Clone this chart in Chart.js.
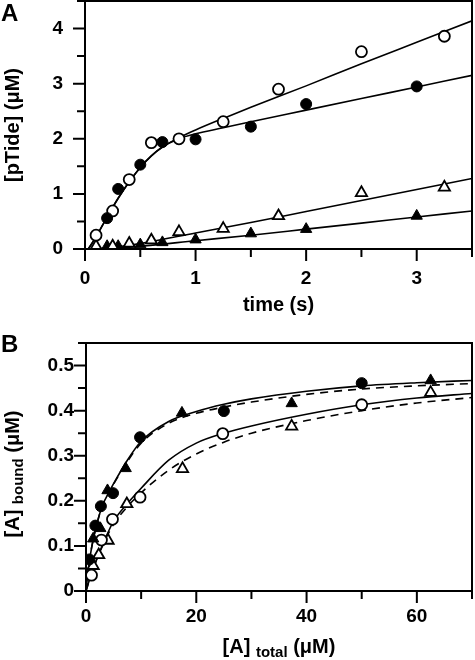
<!DOCTYPE html>
<html>
<head>
<meta charset="utf-8">
<script src="https://cdn.jsdelivr.net/npm/chart.js@4/dist/chart.umd.min.js"></script>
<style>
body { margin: 0; background: #fff; }
#wrap { position: relative; width: 475px; height: 660px; }
canvas { position: absolute; left: 0; }
.letter { position: absolute; font: bold 24px "Liberation Sans", Arial, sans-serif; line-height: 24px; }
</style>
</head>
<body>
<div id="wrap">
  <canvas id="chartA" width="475" height="330" style="top:0"></canvas>
  <canvas id="chartB" width="475" height="330" style="top:330px"></canvas>
  <div class="letter" style="left:1px;top:1px">A</div>
  <div class="letter" style="left:1px;top:332px">B</div>
</div>
<script>
const FONT = '"Liberation Sans", Arial, sans-serif';

// ---- panel A: [pTide] vs time ----
let timeFilledCircle = [0.2, 0.3, 0.5, 0.7, 1.0, 1.5, 2.0, 3.0];
let pTideFilledCircle = [0.56, 1.09, 1.53, 1.94, 1.99, 2.22, 2.63, 2.95];
let timeOpenCircle = [0.1, 0.25, 0.4, 0.6, 0.85, 1.25, 1.75, 2.5, 3.25];
let pTideOpenCircle = [0.25, 0.69, 1.26, 1.93, 2.0, 2.31, 2.9, 3.58, 3.86];
let timeOpenTri = [0.1, 0.25, 0.4, 0.6, 0.85, 1.25, 1.75, 2.5, 3.25];
let pTideOpenTri = [0.05, 0.05, 0.1, 0.16, 0.31, 0.37, 0.6, 1.02, 1.12];
let timeFilledTri = [0.2, 0.3, 0.5, 0.7, 1.0, 1.5, 2.0, 3.0];
let pTideFilledTri = [0.05, 0.05, 0.08, 0.12, 0.17, 0.28, 0.36, 0.6];

// fitted curves
let fitTimeCircle = [0.03, 0.1, 0.2, 0.3, 0.4, 0.5, 0.6, 0.7, 0.85, 1.0, 1.25, 1.5, 2.0, 2.5, 3.0, 3.5];
let fitOpenCircle = [0, 0.22, 0.58, 0.92, 1.22, 1.48, 1.69, 1.85, 2.02, 2.16, 2.37, 2.57, 2.96, 3.36, 3.75, 4.14];
let fitFilledCircle = [0, 0.22, 0.58, 0.92, 1.22, 1.48, 1.69, 1.85, 2.0, 2.09, 2.2, 2.31, 2.52, 2.73, 2.94, 3.15];
let fitTimeTri = [0.1, 0.3, 0.5, 1.0, 1.5, 2.0, 2.5, 3.0, 3.5];
let fitOpenTri = [0, 0.04, 0.1, 0.29, 0.48, 0.68, 0.88, 1.08, 1.28];
let fitFilledTri = [0, 0.02, 0.05, 0.15, 0.25, 0.36, 0.47, 0.58, 0.69];

// ---- panel B: [A]bound vs [A]total ----
let totalFilledCircle = [0.6, 1.7, 2.7, 4.9, 9.8, 25, 50];
let boundFilledCircle = [0.07, 0.145, 0.188, 0.217, 0.341, 0.399, 0.461];
let totalFilledTri = [1.3, 2.6, 3.9, 7.2, 17.4, 37.3, 62.5];
let boundFilledTri = [0.116, 0.139, 0.223, 0.272, 0.395, 0.416, 0.467];
let totalOpenCircle = [1.0, 2.8, 4.8, 9.8, 24.8, 50];
let boundOpenCircle = [0.035, 0.113, 0.159, 0.208, 0.349, 0.413];
let totalOpenTri = [1.3, 2.3, 4.0, 7.4, 17.5, 37.3, 62.5];
let boundOpenTri = [0.056, 0.08, 0.112, 0.193, 0.271, 0.365, 0.44];

let fitTotal = [0, 0.5, 1, 2, 3, 4, 5, 7.5, 10, 15, 20, 25, 30, 40, 50, 60, 70];
let fitUpperSolid = [0, 0.055, 0.095, 0.15, 0.19, 0.215, 0.238, 0.29, 0.332, 0.376, 0.398, 0.414, 0.426, 0.443, 0.455, 0.462, 0.467];
let fitUpperDashed = [0, 0.055, 0.095, 0.15, 0.19, 0.215, 0.237, 0.287, 0.328, 0.372, 0.394, 0.408, 0.419, 0.436, 0.448, 0.455, 0.46];
let fitLowerSolid = [0, 0.02, 0.038, 0.072, 0.102, 0.13, 0.155, 0.194, 0.228, 0.29, 0.328, 0.35, 0.366, 0.392, 0.413, 0.428, 0.438];
let fitLowerDashed = [0, 0.02, 0.038, 0.072, 0.1, 0.126, 0.148, 0.187, 0.218, 0.268, 0.304, 0.33, 0.35, 0.378, 0.4, 0.417, 0.429];

function pts(xs, ys) {
    return xs.map((x, i) => ({ x: x, y: ys[i] }));
}

function markers(xs, ys, style, filled) {
    return {
        data: pts(xs, ys),
        showLine: false,
        pointStyle: style,
        pointRadius: style === "triangle" ? 6.5 : 5.5,
        backgroundColor: filled ? "#000" : "#fff",
        borderColor: "#000",
        borderWidth: filled ? 1 : 1.8,
        order: 0
    };
}

function curve(xs, ys, dashed) {
    return {
        data: pts(xs, ys),
        showLine: true,
        pointRadius: 0,
        borderColor: "#000",
        borderWidth: 1.6,
        borderDash: dashed ? [8, 6] : [],
        cubicInterpolationMode: "monotone",
        order: 1
    };
}

// fixed axis box sizes, no extra label padding
function fixSize(w, h) {
    return s => {
        if (w !== null) s.width = w;
        if (h !== null) s.height = h;
        s.paddingLeft = 0; s.paddingRight = 0;
        s.paddingTop = 0; s.paddingBottom = 0;
    };
}

// box around the plot area and outward tick marks (long on labelled ticks)
const frameTicks = {
    id: "frameTicks",
    afterDraw(chart) {
        const ctx = chart.ctx, a = chart.chartArea;
        const xs = chart.scales.x, ys = chart.scales.y;
        ctx.save();
        ctx.strokeStyle = "#000";
        ctx.lineWidth = 2;
        ctx.strokeRect(a.left, a.top, a.right - a.left, a.bottom - a.top);
        ctx.beginPath();
        xs.ticks.forEach((t, i) => {
            const px = xs.getPixelForTick(i);
            const len = t.label !== "" ? 12 : 8;
            ctx.moveTo(px, a.bottom);
            ctx.lineTo(px, a.bottom + len);
        });
        ys.ticks.forEach((t, i) => {
            const py = ys.getPixelForTick(i);
            const len = t.label !== "" ? 12 : 8;
            ctx.moveTo(a.left, py);
            ctx.lineTo(a.left - len, py);
        });
        ctx.stroke();
        ctx.restore();
    }
};

// axis titles with a subscript for panel B
function drawSubTitle(ctx, parts, cx, cy, rotate) {
    ctx.save();
    ctx.translate(cx, cy);
    if (rotate) ctx.rotate(-Math.PI / 2);
    ctx.fillStyle = "#000";
    ctx.textBaseline = "middle";
    let total = 0;
    parts.forEach(p => {
        ctx.font = "bold " + p.size + "px " + FONT;
        p.w = ctx.measureText(p.text).width;
        total += p.w;
    });
    let x = -total / 2;
    parts.forEach(p => {
        ctx.font = "bold " + p.size + "px " + FONT;
        ctx.fillText(p.text, x, p.dy || 0);
        x += p.w;
    });
    ctx.restore();
}

const subTitles = {
    id: "subTitles",
    afterDraw(chart) {
        const a = chart.chartArea;
        drawSubTitle(chart.ctx, [
            { text: "[A] ", size: 20 },
            { text: "total", size: 15, dy: 6 },
            { text: " (\u03bcM)", size: 20 }
        ], (a.left + a.right) / 2, 317, false);
        drawSubTitle(chart.ctx, [
            { text: "[A] ", size: 20 },
            { text: "bound", size: 15, dy: 6 },
            { text: " (\u03bcM)", size: 20 }
        ], 13, (a.top + a.bottom) / 2 + 7, true);
    }
};

const tickFont = { family: FONT, size: 19, weight: "bold" };
const titleFont = { family: FONT, size: 20, weight: "bold" };

let ctxA = document.getElementById("chartA").getContext("2d");
let chartA = new Chart(ctxA, {
    type: "scatter",
    data: {
        datasets: [
            markers(timeFilledCircle, pTideFilledCircle, "circle", true),
            markers(timeOpenCircle, pTideOpenCircle, "circle", false),
            markers(timeOpenTri, pTideOpenTri, "triangle", false),
            markers(timeFilledTri, pTideFilledTri, "triangle", true),
            curve(fitTimeCircle, fitOpenCircle, false),
            curve(fitTimeCircle, fitFilledCircle, false),
            curve(fitTimeTri, fitOpenTri, false),
            curve(fitTimeTri, fitFilledTri, false)
        ]
    },
    options: {
        responsive: false,
        animation: false,
        devicePixelRatio: 1,
        layout: { autoPadding: false, padding: { top: 1, right: 3, left: 0, bottom: 0 } },
        plugins: { legend: { display: false }, tooltip: { enabled: false } },
        scales: {
            x: {
                min: 0, max: 3.5,
                afterFit: fixSize(null, 81),
                grid: { display: false, drawTicks: false },
                border: { display: false },
                ticks: {
                    stepSize: 0.5, autoSkip: false, maxRotation: 0, padding: 18,
                    color: "#000", font: tickFont,
                    callback: v => Number.isInteger(v) ? String(v) : ""
                },
                title: { display: true, text: "time (s)", color: "#000", font: titleFont, padding: { top: 0, bottom: 13 } }
            },
            y: {
                min: 0, max: 4.5,
                afterFit: fixSize(85, null),
                grid: { display: false, drawTicks: false },
                border: { display: false },
                ticks: {
                    stepSize: 0.5, autoSkip: false, padding: 22,
                    color: "#000", font: tickFont,
                    callback: v => Number.isInteger(v) ? String(v) : ""
                },
                title: { display: true, text: "[pTide] (\u03bcM)", color: "#000", font: titleFont, padding: { top: 1, bottom: 0 } }
            }
        }
    },
    plugins: [frameTicks]
});

let ctxB = document.getElementById("chartB").getContext("2d");
let chartB = new Chart(ctxB, {
    type: "scatter",
    data: {
        datasets: [
            markers(totalFilledCircle, boundFilledCircle, "circle", true),
            markers(totalFilledTri, boundFilledTri, "triangle", true),
            markers(totalOpenCircle, boundOpenCircle, "circle", false),
            markers(totalOpenTri, boundOpenTri, "triangle", false),
            curve(fitTotal, fitUpperSolid, false),
            curve(fitTotal, fitUpperDashed, true),
            curve(fitTotal, fitLowerSolid, false),
            curve(fitTotal, fitLowerDashed, true)
        ]
    },
    options: {
        responsive: false,
        animation: false,
        devicePixelRatio: 1,
        layout: { autoPadding: false, padding: { top: 13, right: 3, left: 0, bottom: 0 } },
        plugins: { legend: { display: false }, tooltip: { enabled: false } },
        scales: {
            x: {
                min: 0, max: 70,
                afterFit: fixSize(null, 69),
                grid: { display: false, drawTicks: false },
                border: { display: false },
                ticks: {
                    stepSize: 10, autoSkip: false, maxRotation: 0, padding: 14,
                    color: "#000", font: tickFont,
                    callback: v => (v % 20 === 0 && v < 70) ? String(v) : ""
                }
            },
            y: {
                min: 0, max: 0.55,
                afterFit: fixSize(86, null),
                grid: { display: false, drawTicks: false },
                border: { display: false },
                ticks: {
                    stepSize: 0.05, autoSkip: false, padding: 12,
                    color: "#000", font: tickFont,
                    callback: v => {
                        const n = Math.round(v * 100);
                        if (n % 10 !== 0) return "";
                        return n === 0 ? "0" : (n / 100).toFixed(1);
                    }
                }
            }
        }
    },
    plugins: [frameTicks, subTitles]
});
</script>
</body>
</html>
